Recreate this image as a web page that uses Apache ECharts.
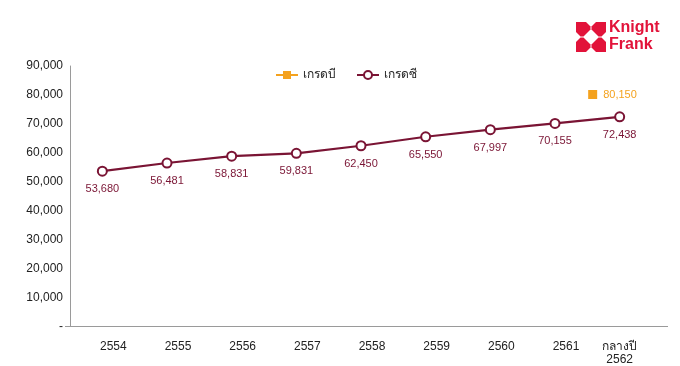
<!DOCTYPE html>
<html><head><meta charset="utf-8">
<script src="https://cdn.jsdelivr.net/npm/echarts@6/dist/echarts.min.js"></script>
<style>html,body{margin:0;padding:0;background:#fff}#c{width:680px;height:366px}</style>
</head><body><div id="c"></div>
<script>
const categories = ['2554','2555','2556','2557','2558','2559','2560','2561','กลางปี\n2562'];
const gradeB = [null,null,null,null,null,null,null,null,80150];
const gradeC = [53680,56481,58831,59831,62450,65550,67997,70155,72438];
const seriesNames = ['เกรดบี','เกรดซี'];
const yTicks = [0,10000,20000,30000,40000,50000,60000,70000,80000,90000];

const maroon = '#7a1434';
const orange = '#f4a21e';
const red = '#e2133a';
const font = 'Liberation Sans, Arial, Noto Sans, sans-serif';
const fmt = v => v.toLocaleString('en-US');

const chart = echarts.init(document.getElementById('c'), null, {renderer:'canvas'});
const opt = {
  animation:false,
  textStyle:{fontFamily:font},
  grid:{left:70,right:28,top:66,bottom:39},
  legend:{
    top:64,left:270,itemGap:20,itemWidth:22,itemHeight:10,
    textStyle:{fontSize:12,color:'#222',fontFamily:font},
    data:seriesNames
  },
  xAxis:{
    type:'category',data:categories,boundaryGap:true,
    axisLine:{lineStyle:{color:'#9a9a9a',width:1}},
    axisTick:{show:false},
    axisLabel:{
      margin:14,color:'#222',fontSize:12,interval:0,
      formatter:(v)=> v.indexOf('\n')>=0 ? v.split('\n').map(s=>'{b|'+s+'}').join('\n') : '{a|'+v+'}',
      rich:{a:{padding:[0,0,0,22],fontSize:12,color:'#222'},b:{fontSize:12,color:'#222',lineHeight:13}}
    }
  },
  yAxis:{
    type:'value',min:0,max:90000,interval:10000,
    axisLine:{show:true,lineStyle:{color:'#9a9a9a',width:1}},
    axisTick:{show:false},
    splitLine:{show:false},
    axisLabel:{margin:7,color:'#222',fontSize:12,formatter:v=> v===0?'-':fmt(v)}
  },
  series:[
    {
      name:seriesNames[0],type:'line',data:gradeB,
      symbol:'rect',symbolSize:9,symbolOffset:[-27,0],
      itemStyle:{color:orange},lineStyle:{color:orange,width:2.5},
      label:{show:true,position:'right',distance:6,color:orange,fontSize:11,formatter:p=>fmt(p.value)}
    },
    {
      name:seriesNames[1],type:'line',data:gradeC,
      symbol:'emptyCircle',symbolSize:9,showAllSymbol:true,
      itemStyle:{color:maroon,borderWidth:2.5,borderColor:maroon},
      lineStyle:{color:maroon,width:2.2},
      label:{show:true,position:'bottom',distance:7,color:maroon,fontSize:11,formatter:p=>fmt(p.value)}
    }
  ],
  graphic:[]
};
chart.setOption(opt);

// Knight Frank logo
const ox = 576, oy = 22;
function piece(pts){return {type:'polygon',shape:{points:pts.map(p=>[ox+p[0],oy+p[1]])},style:{fill:red}};}
const tl = [[0,0],[10,0],[14.5,4.5],[14.5,7.5],[7.5,14.5],[4.5,14.5],[0,10]];
const mir = (pts,fx,fy)=>pts.map(p=>[fx?30-p[0]:p[0], fy?30-p[1]:p[1]]);
const y0 = chart.convertToPixel({yAxisIndex:0},0);
chart.setOption({graphic:[
  piece(tl),piece(mir(tl,true,false)),piece(mir(tl,false,true)),piece(mir(tl,true,true)),
  {type:'text',left:609,top:20,style:{text:'Knight',fill:red,font:'bold 16px '+font}},
  {type:'text',left:609,top:37,style:{text:'Frank',fill:red,font:'bold 16px '+font}},
  {type:'line',shape:{x1:652,y1:y0,x2:668,y2:y0},style:{stroke:'#9a9a9a',lineWidth:1}},
  {type:'line',shape:{x1:65,y1:y0,x2:70,y2:y0},style:{stroke:'#9a9a9a',lineWidth:1}}
]});
</script></body></html>
